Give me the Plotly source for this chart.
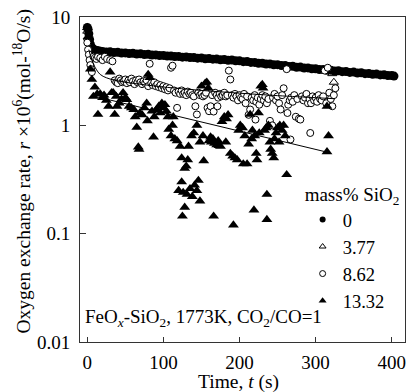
import plotly.graph_objects as go

# ---- data ----
series_names = ["0", "3.77", "8.62", "13.32"]

t0 = [0, 1, 2, 3, 4, 6, 8, 10, 13, 16,
      20, 25, 30, 35, 40, 45, 50, 55, 60, 65, 70, 75, 80, 85, 90, 95, 100,
      105, 110, 115, 120, 125, 130, 135, 140, 145, 150, 155, 160, 165, 170, 175, 180, 185, 190,
      195, 200, 205, 210, 215, 220, 225, 230, 235, 240, 245, 250, 255, 260, 265, 270, 275, 280, 285, 290, 295, 300,
      305, 310, 315, 320, 325, 330, 335, 340, 345, 350, 355, 360, 365, 370, 375, 380, 385, 390, 395, 400, 403]
v0 = [8.0, 7.7, 7.0, 6.2, 5.6, 5.2, 5.05, 4.95, 4.9, 4.85,
      4.80, 4.76, 4.77, 4.70, 4.72, 4.65, 4.66, 4.60, 4.62, 4.55, 4.57, 4.50, 4.52, 4.45, 4.47, 4.41, 4.42,
      4.36, 4.37, 4.31, 4.33, 4.26, 4.28, 4.22, 4.23, 4.17, 4.19, 4.12, 4.14, 4.08, 4.09, 4.03, 4.05, 3.99, 4.01,
      3.94, 3.94, 3.87, 3.88, 3.81, 3.81, 3.74, 3.75, 3.68, 3.69, 3.62, 3.63, 3.56, 3.57, 3.50, 3.51, 3.44, 3.45, 3.38, 3.39, 3.33, 3.33,
      3.27, 3.28, 3.22, 3.23, 3.17, 3.19, 3.13, 3.14, 3.08, 3.10, 3.04, 3.06, 3.00, 3.01, 2.96, 2.97, 2.92, 2.93, 2.88, 2.88, 2.85]

t1 = [0, 1, 2, 4, 7, 12, 20, 30, 45, 60, 80, 100, 120, 140, 160, 180, 200, 220, 240, 260, 280, 300, 315, 322, 324]
v1 = [7.4, 6.4, 5.9, 5.3, 5.0, 4.85, 4.75, 4.7, 4.62, 4.55, 4.45, 4.35, 4.26, 4.17, 4.08, 3.99, 3.88, 3.76, 3.64, 3.52, 3.41, 3.3, 3.2, 3.0, 2.5]

t2 = [0, 1, 2, 3, 4, 5, 6, 8, 10, 12, 14, 17, 20, 23, 26, 30, 33,
      36, 38, 40, 42, 44, 46, 48, 50, 52, 54, 56, 58, 60, 62, 64, 66, 68, 70, 72, 74, 76, 78, 80, 82, 84, 86, 88, 90, 92, 94, 96, 98, 100,
      102, 104, 106, 108, 110, 112, 114, 116, 118, 120, 122, 124, 126, 128, 130, 132, 134, 136, 138, 140, 142, 144, 146, 148, 150,
      152, 154, 156, 158, 160, 162, 164, 166, 168, 170, 171, 172, 174, 176, 178, 180, 182, 184, 186, 188, 190, 192, 194, 196, 198, 200,
      202, 204, 206, 208, 210, 212, 214, 216, 218, 220, 221, 222, 224, 226, 228, 230, 232, 234, 236, 238, 240, 243, 244, 246, 248, 250,
      252, 254, 256, 258, 262, 263, 264, 266, 267, 268, 270, 272, 274, 276, 278, 280, 282, 284, 286, 288, 290, 292, 293, 294, 296, 298, 300,
      302, 304, 306, 308, 310, 312, 314, 316, 318, 320, 322, 324, 326]
v2 = [5.8, 5.0, 4.5, 4.0, 3.6, 3.3, 3.1, 4.3, 4.2, 4.1, 4.3, 4.2, 4.0, 4.3, 4.1, 4.0, 3.9,
      2.6, 2.5, 2.45, 2.7, 2.6, 2.5, 2.55, 2.65, 2.45, 2.6, 2.5, 2.7, 2.55, 2.4, 2.6, 2.5, 2.65, 2.5, 2.4, 2.55, 2.45, 2.6, 2.3, 3.7, 2.45, 2.35, 2.5, 2.3, 2.4, 2.25, 2.35, 2.2, 2.3,
      2.15, 2.25, 2.1, 2.2, 3.4, 3.55, 2.1, 2.0, 1.45, 2.05, 1.95, 2.1, 1.95, 2.0, 1.9, 2.05, 1.95, 2.0, 1.9, 1.85, 1.5, 1.26, 2.0, 1.9, 1.95,
      1.85, 1.9, 2.0, 1.45, 1.35, 1.5, 1.9, 1.34, 2.0, 1.9, 1.5, 1.8, 1.95, 1.85, 1.9, 2.0, 1.85, 1.9, 3.2, 2.65, 1.9, 1.8, 1.95, 1.85, 1.7, 1.9,
      1.8, 1.75, 1.95, 1.6, 1.85, 1.25, 1.4, 1.8, 1.7, 1.9, 1.13, 1.65, 1.8, 1.55, 1.75, 1.9, 1.7, 1.85, 1.6, 1.75, 1.1, 1.0, 1.8, 1.95, 1.7, 1.85,
      1.6, 1.4, 1.9, 2.2, 3.3, 1.3, 1.55, 1.7, 0.74, 1.8, 1.65, 1.9, 1.2, 1.75, 1.15, 1.13, 1.85, 1.7, 1.8, 1.95, 1.6, 1.75, 0.85, 1.6, 1.85, 1.7, 1.8,
      1.65, 1.9, 1.75, 1.7, 1.85, 3.2, 1.6, 3.4, 2.0, 1.75, 1.5, 1.9, 2.2]

t3 = [0, 1, 4, 6, 8, 10, 13, 14, 17, 20,
      22, 25, 28, 30, 32, 34, 36, 38, 39, 42,
      45, 47, 50, 52, 55, 58, 61, 63, 65, 67,
      68, 69, 72, 75, 78, 79, 80, 82, 85, 87,
      88, 91, 94, 96, 98, 100, 102, 104, 106, 107,
      110, 112, 113, 115, 118, 120, 122, 124, 124, 125,
      126, 128, 128, 130, 131, 132, 133, 135, 137, 138,
      140, 141, 144, 144, 146, 148, 148, 150, 152, 153,
      155, 157, 159, 160, 162, 163, 165, 166, 167, 170,
      172, 173, 175, 177, 180, 182, 183, 185, 188, 191,
      192, 194, 197, 199, 201, 204, 205, 207, 210, 212,
      214, 216, 217, 219, 220, 222, 223, 225, 226, 228,
      230, 231, 233, 235, 236, 236, 238, 240, 241, 243,
      245, 246, 248, 250, 252, 253, 256, 258, 260, 262,
      315, 317, 315]
v3 = [8.0, 6.6, 3.3, 2.65, 1.85, 2.25, 1.95, 1.26, 1.95, 1.8,
      1.9, 1.7, 1.5, 3.1, 2.0, 2.0, 1.26, 1.85, 1.5, 1.6,
      1.75, 2.0, 1.8, 1.73, 1.5, 1.45, 1.4, 1.2, 0.96, 0.63,
      0.6, 1.3, 1.25, 1.45, 1.6, 1.1, 2.95, 2.75, 1.35, 0.78,
      1.2, 1.4, 1.5, 1.3, 1.6, 1.45, 1.55, 1.35, 1.2, 0.92,
      0.8, 1.0, 1.2, 0.75, 0.72, 0.25, 0.64, 0.5, 0.3, 0.145,
      0.24, 0.175, 0.4, 0.42, 0.23, 0.48, 0.64, 0.26, 0.8, 0.22,
      0.85, 0.28, 1.0, 0.25, 0.31, 0.2, 0.7, 2.3, 0.8, 0.47,
      2.45, 2.5, 2.2, 0.72, 0.78, 0.7, 0.75, 0.145, 0.68, 0.66,
      0.72, 0.65, 0.64, 1.08, 1.2, 0.7, 1.15, 1.25, 0.55, 0.52,
      0.12, 0.5, 0.48, 0.9, 1.0, 0.95, 0.44, 0.8, 0.44, 0.67,
      1.26, 0.75, 0.9, 0.165, 0.8, 0.55, 0.48, 1.3, 0.85, 2.3,
      2.38, 2.2, 0.9, 0.95, 0.23, 0.135, 1.0, 0.7, 0.6, 0.55,
      0.5, 0.75, 0.85, 0.95, 0.7, 1.0, 0.9, 1.0, 0.8, 0.35,
      0.57, 0.8, 1.5]

fit8_t = [2, 5, 10, 17, 25, 35, 50, 75, 100, 150, 200, 250, 300, 325]
fit8_v = [5.0, 4.2, 3.45, 2.95, 2.75, 2.62, 2.5, 2.37, 2.26, 2.1, 1.98, 1.88, 1.8, 1.76]
fit13_t = [10, 313]
fit13_v = [1.85, 0.57]

x_ticks = [0, 100, 200, 300, 400]
y_ticks = [0.01, 0.1, 1, 10]
y_ticktext = ["0.01", "0.1", "1", "10"]

assert len(t0) == len(v0) and len(t1) == len(v1) and len(t2) == len(v2) and len(t3) == len(v3)

FONT = "Liberation Serif"
fig = go.Figure()

# data traces (no legend)
fig.add_trace(go.Scatter(x=t1, y=v1, mode="markers", showlegend=False,
                         marker=dict(symbol="triangle-up-open", size=8, color="black", line=dict(width=1))))
fig.add_trace(go.Scatter(x=t0, y=v0, mode="markers", showlegend=False,
                         marker=dict(symbol="circle", size=9, color="black")))
fig.add_trace(go.Scatter(x=t2, y=v2, mode="markers", showlegend=False,
                         marker=dict(symbol="circle", size=7, color="white", line=dict(width=1, color="black"))))
fig.add_trace(go.Scatter(x=fit8_t, y=fit8_v, mode="lines", showlegend=False,
                         line=dict(color="black", width=1, shape="spline")))
fig.add_trace(go.Scatter(x=t3, y=v3, mode="markers", showlegend=False,
                         marker=dict(symbol="triangle-up", size=9.5, color="black")))
fig.add_trace(go.Scatter(x=fit13_t, y=fit13_v, mode="lines", showlegend=False,
                         line=dict(color="black", width=1)))

# legend entries
leg_markers = [dict(symbol="circle", size=6, color="black"),
               dict(symbol="triangle-up-open", size=6, color="black", line=dict(width=1)),
               dict(symbol="circle-open", size=6, color="black", line=dict(width=1)),
               dict(symbol="triangle-up", size=7, color="black")]
for name, mk in zip(series_names, leg_markers):
    fig.add_trace(go.Scatter(x=[None], y=[None], mode="markers", name=name, marker=mk))

axis_common = dict(showline=True, linecolor="#333", linewidth=1, mirror=True,
                   ticks="inside", tickcolor="#333", showgrid=False, zeroline=False,
                   tickfont=dict(family=FONT, size=19, color="black"))

fig.update_layout(
    width=406, height=392,
    margin=dict(l=80, r=1, t=17, b=50),
    paper_bgcolor="white", plot_bgcolor="white",
    font=dict(family=FONT, size=19, color="black"),
    xaxis=dict(range=[-9.6, 417.5], tickvals=x_ticks, ticklen=5, ticklabelstandoff=3, **axis_common),
    yaxis=dict(type="log", range=[-2, 1], tickvals=y_ticks, ticktext=y_ticktext, ticklen=6,
               ticklabelstandoff=5, **axis_common),
    legend=dict(x=0.685, y=0.51, xanchor="left", yanchor="top", bgcolor="rgba(0,0,0,0)",
                title=dict(text="mass% SiO<sub>2</sub>", font=dict(family=FONT, size=19)),
                font=dict(family=FONT, size=18.5), tracegroupgap=0),
    annotations=[
        dict(text="FeO<sub><i>x</i></sub>-SiO<sub>2</sub>, 1773K, CO<sub>2</sub>/CO=1",
             xref="paper", yref="paper", x=0.008, y=0.075, xanchor="left", yanchor="middle",
             showarrow=False, font=dict(family=FONT, size=19)),
        dict(text="Time, <i>t</i> (s)", xref="paper", yref="paper", x=0.489, y=-0.122,
             xanchor="center", yanchor="middle", showarrow=False, font=dict(family=FONT, size=19.5)),
        dict(text="Oxygen exchange rate, <i>r</i> ×10<sup>6</sup>(mol-<sup>18</sup>O/s)",
             xref="paper", yref="paper", x=-0.178, y=0.525, xanchor="center", yanchor="middle",
             textangle=-90, showarrow=False, font=dict(family=FONT, size=19.5)),
    ],
)

fig.write_html("out.html")
